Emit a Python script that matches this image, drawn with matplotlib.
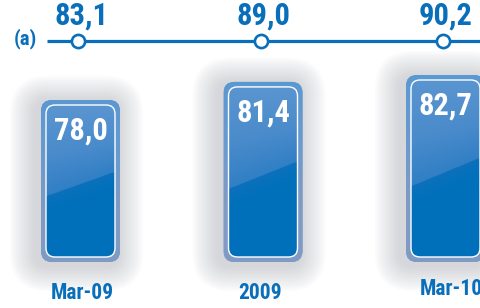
import matplotlib
matplotlib.use("Agg")
import matplotlib.pyplot as plt
import numpy as np
from matplotlib.patches import FancyBboxPatch
from matplotlib.colors import LinearSegmentedColormap

plt.rcParams['font.family'] = ['Roboto Condensed', 'Fira Sans Condensed', 'DejaVu Sans']

# data
categories = ["Mar-09", "2009", "Mar-10"]
bar_values = [78.0, 81.4, 82.7]
line_values = [83.1, 89.0, 90.2]
bar_labels = ["78,0", "81,4", "82,7"]
line_labels = ["83,1", "89,0", "90,2"]

BLUE = "#0a6fba"
W, H = 481, 308
DPI = 100

fig = plt.figure(figsize=(W / DPI, H / DPI), dpi=DPI)
fig.patch.set_facecolor("white")

# ---- scales (pixel mapping) ----
x0_px, step_px = 80.5, 182.5       # bar centres
base_val, k_px = 47.55, 5.32       # baseline value, pixels per unit
base_px = 308 - 262                 # baseline from figure bottom
ext = 1.1                           # axes run past the right edge so the last bar is cut by the figure
xlim = (-x0_px / step_px, (W * ext - x0_px) / step_px)
ylim = (base_val - base_px / k_px, base_val + (H - base_px) / k_px)

ax = fig.add_axes([0, 0, ext, 1])
ax.set_xlim(*xlim)
ax.set_ylim(*ylim)
ax.axis("off")

px_x = 1.0 / step_px     # one pixel in x data units
px_y = 1.0 / k_px        # one pixel in y data units
aspect = px_y / px_x

bar_w = 79 * px_x
xs = np.arange(len(categories))

border_cmap = LinearSegmentedColormap.from_list("b", ["#5a98d2", "#6a9ace", "#7f9bc4", "#819bc3"])
fill_cmap = LinearSegmentedColormap.from_list("f", ["#5a95d0", "#4a8bcb", "#2a7cc3", "#0d71bb", "#0070bb"])

for i, v in enumerate(bar_values):
    left = xs[i] - bar_w / 2
    h = v - base_val
    # soft glow behind the bar
    for g in range(13, 0, -1):
        pad = g * 2.0
        glow = FancyBboxPatch((left - (pad + 5) * px_x, base_val - (pad + 3) * px_y),
                              bar_w + (2 * pad + 2) * px_x, h + (2 * pad + 1) * px_y,
                              boxstyle="round,pad=0,rounding_size=%f" % ((12 + pad) * px_x),
                              mutation_aspect=aspect, fc="#a4a8b0", ec="none",
                              alpha=0.038, zorder=1)
        ax.add_patch(glow)

    # outer rounded frame with vertical gradient
    outer = FancyBboxPatch((left, base_val), bar_w, h,
                           boxstyle="round,pad=0,rounding_size=%f" % (11 * px_x),
                           mutation_aspect=aspect, fc="#6f9acb", ec="none", zorder=2)
    ax.add_patch(outer)
    grad = np.linspace(0, 1, 200).reshape(-1, 1)
    im = ax.imshow(grad, cmap=border_cmap, aspect="auto",
                   extent=(left, left + bar_w, base_val, base_val + h),
                   origin="upper", zorder=2.5)
    im.set_clip_path(outer)

    # inner face with diagonal light-to-dark blend
    inset = 5
    il, ib = left + inset * px_x, base_val + inset * px_y
    iw, ih = bar_w - 2 * inset * px_x, h - 2 * inset * px_y
    inner = FancyBboxPatch((il, ib), iw, ih,
                           boxstyle="round,pad=0,rounding_size=%f" % (9 * px_x),
                           mutation_aspect=aspect, fc="none", ec="white", lw=1.0, zorder=4)
    ax.add_patch(inner)
    yy, xx = np.mgrid[0:1:300j, 0:1:100j]
    edge = 0.52 - 0.16 * (xx - 0.5)
    t = np.where(yy < edge, 0.45 * yy / edge, 0.75 + 0.25 * np.clip((yy - edge) / 0.1, 0, 1))
    im2 = ax.imshow(t, cmap=fill_cmap, aspect="auto", vmin=0, vmax=1,
                    extent=(il, il + iw, ib, ib + ih), origin="upper", zorder=3)
    im2.set_clip_path(inner)

    # value label inside the bar
    ax.text(xs[i], base_val + h - 31 * px_y, bar_labels[i], ha="center", va="center",
            color="white", fontsize=22, fontweight="bold", zorder=5)

# category labels below bars
label_off = [31, 31, 27]
label_dx = [2, -3, 6]
for i, c in enumerate(categories):
    ax.text(xs[i] + label_dx[i] * px_x, base_val - label_off[i] * px_y, c, ha="center", va="center",
            color=BLUE, fontsize=15.5, fontweight="bold", zorder=5)

# ---- top line ----
ax2 = fig.add_axes([0, 0, 1, 1], facecolor="none")
ax2.set_xlim(-(x0_px - 2.5) / step_px, (W - x0_px + 2.5) / step_px)
ax2.set_ylim(0, H)
ax2.axis("off")
line_y = H - 41
ax2.plot([-(x0_px - 2.5 - 47) / step_px, (W - x0_px + 10) / step_px], [line_y, line_y],
         color=BLUE, lw=2.3, solid_capstyle="butt", zorder=2)
ax2.plot(xs, [line_y] * len(xs), ls="none", marker="o", ms=9.5, mfc="white",
         mec=BLUE, mew=1.9, zorder=3)
for i, lab in enumerate(line_labels):
    ax2.text(xs[i] + 3 * px_x, line_y + 25, lab, ha="center", va="center",
             color=BLUE, fontsize=22, fontweight="bold")
ax2.text(-(x0_px - 2.5 - 25) / step_px, line_y + 2, "(a)", ha="center", va="center",
         color=BLUE, fontsize=15, fontweight="bold")

fig.savefig("out.png", dpi=DPI, facecolor="white")
